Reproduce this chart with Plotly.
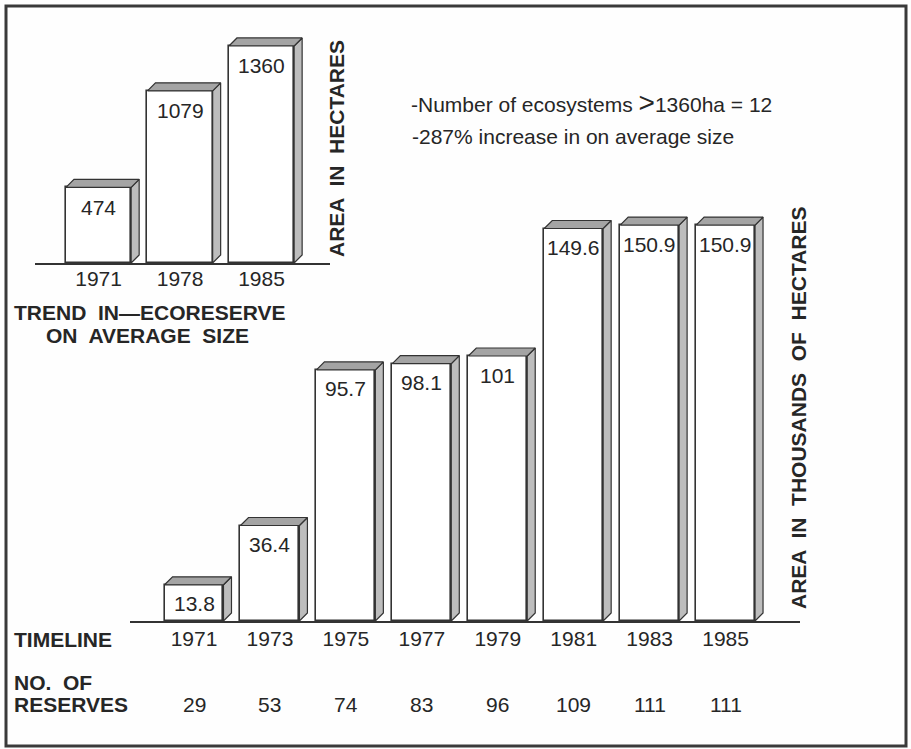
import plotly.graph_objects as go

# ---- data -------------------------------------------------------------
years = ["1971", "1973", "1975", "1977", "1979", "1981", "1983", "1985"]
area_thousand_ha = [13.8, 36.4, 95.7, 98.1, 101, 149.6, 150.9, 150.9]
reserve_counts = [29, 53, 74, 83, 96, 109, 111, 111]

avg_years = ["1971", "1978", "1985"]
avg_size_ha = [474, 1079, 1360]

notes = [
    "-Number of ecosystems <span style='font-size:28px'>&gt;</span>1360ha = 12",
    "-287% increase in on average size",
]

# ---- page / style -------------------------------------------------------
W, H = 911, 749
FONT = "Liberation Sans, Arial, Helvetica, sans-serif"
INK = "#262626"
EDGE = "#333333"
SIDE = "#bdbdbd"
TOP = "#a4a4a4"

# main panel placement (pixels)
M_LEFT, M_RIGHT, M_BASE, M_TOP = 130, 800, 621, 170
M_XMIN, M_XMAX = -0.843, 7.98
M_YMAX = 171.9
# inset panel placement (pixels)
I_LEFT, I_RIGHT, I_BASE, I_TOP = 35, 330, 263, 30
I_XMIN, I_XMAX = -0.78, 2.84
I_YMAX = 1460

DEPTH_PX = 8  # oblique depth of the 3-D boxes


def px_per_unit(p0, p1, r0, r1):
    return (p1 - p0) / (r1 - r0)


def box_faces(xs, vals, width, dx, dy):
    """Side and top polygons for oblique 3-D bars (data coords)."""
    sx, sy, tx, ty = [], [], [], []
    for x, v in zip(xs, vals):
        xl, xr = x - width / 2, x + width / 2
        sx += [xr, xr + dx, xr + dx, xr, xr, None]
        sy += [0, dy, v + dy, v, 0, None]
        tx += [xl, xl + dx, xr + dx, xr, xl, None]
        ty += [v, v + dy, v + dy, v, v, None]
    return sx, sy, tx, ty


fig = go.Figure()

# ---- main chart -------------------------------------------------------
mx = list(range(len(years)))
m_w = 0.776
m_dx = DEPTH_PX / px_per_unit(M_LEFT, M_RIGHT, M_XMIN, M_XMAX)
m_dy = DEPTH_PX / px_per_unit(M_TOP, M_BASE, 0, M_YMAX)

fig.add_bar(x=mx, y=area_thousand_ha, width=m_w, xaxis="x", yaxis="y",
            marker=dict(color="white", line=dict(color=EDGE, width=1.6)),
            hoverinfo="skip")
sx, sy, tx, ty = box_faces(mx, area_thousand_ha, m_w, m_dx, m_dy)
fig.add_scatter(x=sx, y=sy, xaxis="x", yaxis="y", mode="lines", fill="toself",
                fillcolor=SIDE, line=dict(color=EDGE, width=1.2), hoverinfo="skip")
fig.add_scatter(x=tx, y=ty, xaxis="x", yaxis="y", mode="lines", fill="toself",
                fillcolor=TOP, line=dict(color=EDGE, width=1.2), hoverinfo="skip")

# ---- inset chart --------------------------------------------------------
ix = list(range(len(avg_years)))
i_w = 0.80
i_dx = DEPTH_PX / px_per_unit(I_LEFT, I_RIGHT, I_XMIN, I_XMAX)
i_dy = DEPTH_PX / px_per_unit(I_TOP, I_BASE, 0, I_YMAX)

fig.add_bar(x=ix, y=avg_size_ha, width=i_w, xaxis="x2", yaxis="y2",
            marker=dict(color="white", line=dict(color=EDGE, width=1.6)),
            hoverinfo="skip")
sx, sy, tx, ty = box_faces(ix, avg_size_ha, i_w, i_dx, i_dy)
fig.add_scatter(x=sx, y=sy, xaxis="x2", yaxis="y2", mode="lines", fill="toself",
                fillcolor=SIDE, line=dict(color=EDGE, width=1.2), hoverinfo="skip")
fig.add_scatter(x=tx, y=ty, xaxis="x2", yaxis="y2", mode="lines", fill="toself",
                fillcolor=TOP, line=dict(color=EDGE, width=1.2), hoverinfo="skip")

annotations = []
# value labels inside the tops of the bars
for x, v in zip(mx, area_thousand_ha):
    annotations.append(dict(x=x, y=v, xref="x", yref="y", text=f"{v:g}",
                            showarrow=False, yanchor="middle", yshift=-19,
                            font=dict(size=21, color=INK)))
for x, v in zip(ix, avg_size_ha):
    annotations.append(dict(x=x, y=v, xref="x2", yref="y2", text=f"{v:g}",
                            showarrow=False, yanchor="middle", yshift=-20,
                            font=dict(size=21, color=INK)))
# number of reserves row
for x, n in zip(mx, reserve_counts):
    annotations.append(dict(x=x, y=(H - 704) / H, xref="x", yref="paper",
                            text=str(n), showarrow=False, yanchor="middle",
                            font=dict(size=21, color=INK)))


def label(text, px_x, px_y, size=21, bold=True, xanchor="left", angle=0):
    annotations.append(dict(x=px_x / W, y=(H - px_y) / H, xref="paper", yref="paper",
                            text=f"<b>{text}</b>" if bold else text,
                            showarrow=False, xanchor=xanchor, yanchor="middle",
                            textangle=angle, font=dict(size=size, color=INK, family=FONT)))


label("TIMELINE", 12, 639)
label("NO.  OF", 12, 682)
label("RESERVES", 12, 704)
label("TREND  IN—ECORESERVE", 150, 312, xanchor="center")
label("ON  AVERAGE  SIZE", 147, 335, xanchor="center")
label("AREA  IN  HECTARES", 336, 149, size=21, xanchor="center", angle=-90)
label("AREA  IN  THOUSANDS  OF  HECTARES", 798, 408, size=21, xanchor="center", angle=-90)
label(notes[0], 409, 103, size=21, bold=False)
label(notes[1], 410, 137, size=21, bold=False)

axis_common = dict(showgrid=False, zeroline=False, ticks="", showline=False)

fig.update_layout(
    width=W, height=H,
    margin=dict(l=0, r=0, t=0, b=0),
    paper_bgcolor="#fefefe", plot_bgcolor="rgba(0,0,0,0)",
    font=dict(family=FONT, color=INK),
    showlegend=False,
    bargap=0,
    xaxis=dict(domain=[M_LEFT / W, M_RIGHT / W], range=[M_XMIN, M_XMAX],
               tickvals=mx, ticktext=years, tickfont=dict(size=21, color=INK),
               showgrid=False, zeroline=False, ticks="",
               showline=True, linecolor=EDGE, linewidth=2,
               ticklabelstandoff=-2, anchor="y"),
    yaxis=dict(domain=[(H - M_BASE) / H, (H - M_TOP) / H], range=[0, M_YMAX],
               showticklabels=False, anchor="x", **axis_common),
    xaxis2=dict(domain=[I_LEFT / W, I_RIGHT / W], range=[I_XMIN, I_XMAX],
                tickvals=ix, ticktext=avg_years, tickfont=dict(size=21, color=INK),
                showgrid=False, zeroline=False, ticks="",
                showline=True, linecolor=EDGE, linewidth=2,
                ticklabelstandoff=-4, anchor="y2"),
    yaxis2=dict(domain=[(H - I_BASE) / H, (H - I_TOP) / H], range=[0, I_YMAX],
                showticklabels=False, anchor="x2", **axis_common),
    annotations=annotations,
    shapes=[dict(type="rect", xref="paper", yref="paper",
                 x0=6 / W, x1=906 / W, y0=(H - 746) / H, y1=(H - 6) / H,
                 line=dict(color="#3a3a3a", width=3), fillcolor="rgba(0,0,0,0)",
                 layer="below")],
)

fig.write_html("out.html")
